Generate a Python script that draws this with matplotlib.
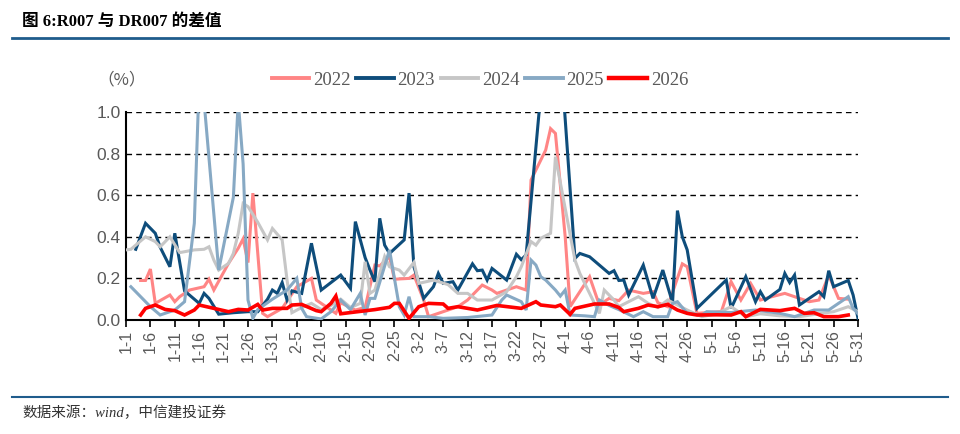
import numpy as np
import matplotlib.pyplot as plt
from matplotlib.lines import Line2D

# x = day offset from 1-1 (non-leap year, 1-1 .. 5-31)
days_2022 = [3, 4, 5, 6, 9, 10, 11, 13, 16, 17, 18, 21, 23, 24, 25, 26, 28, 29, 32, 35,
             38, 39, 43, 44, 47, 49, 51, 52, 54, 55, 58, 59, 61, 62, 64, 68, 70, 73, 75, 76,
             80, 82, 83, 86, 87, 88, 90, 91, 95, 97, 99, 101, 103, 106, 108, 109, 111, 114,
             115, 117, 122, 124, 126, 128, 130, 132, 135, 138, 140, 142, 144, 146, 148]
vals_2022 = [0.19, 0.19, 0.245, 0.08, 0.12, 0.088, 0.112, 0.144, 0.16, 0.196, 0.144, 0.272,
             0.345, 0.39, 0.276, 0.61, 0.032, 0.016, 0.056, 0.16, 0.2, 0.096, 0.032, 0.083,
             0.048, 0.06, 0.264, 0.26, 0.305, 0.196, 0.2, 0.216, 0.096, 0.016, 0.032, 0.064,
             0.096, 0.168, 0.144, 0.128, 0.16, 0.144, 0.673, 0.817, 0.92, 0.897, 0.4, 0.064,
             0.208, 0.072, 0.104, 0.093, 0.144, 0.128, 0.136, 0.083, 0.064, 0.27, 0.256, 0.032,
             0.04, 0.184, 0.096, 0.176, 0.096, 0.11, 0.128, 0.104, 0.088, 0.096, 0.216, 0.104, 0.1]

days_2023 = [2, 4, 6, 7, 9, 10, 12, 15, 16, 17, 19, 22, 25, 27, 29, 30, 31, 32, 33, 34, 36,
             38, 40, 44, 46, 47, 49, 50, 51, 52, 53, 54, 57, 58, 59, 61, 63, 64, 65, 67, 68,
             71, 72, 73, 74, 75, 78, 80, 81, 82, 86, 89, 92, 93, 95, 99, 100, 101, 102, 103,
             106, 108, 110, 112, 113, 114, 115, 117, 123, 124, 127, 129, 130, 131, 134, 135,
             136, 137, 138, 142, 143, 144, 145, 148, 149, 150]
vals_2023 = [0.34, 0.465, 0.417, 0.35, 0.256, 0.417, 0.14, 0.08, 0.128, 0.104, 0.028, 0.035,
             0.04, 0.04, 0.1, 0.144, 0.128, 0.18, 0.096, 0.14, 0.128, 0.369, 0.144, 0.216,
             0.152, 0.473, 0.3, 0.24, 0.184, 0.489, 0.36, 0.32, 0.385, 0.61, 0.256, 0.104,
             0.16, 0.224, 0.176, 0.184, 0.144, 0.27, 0.237, 0.24, 0.192, 0.248, 0.192, 0.316,
             0.29, 0.313, 1.35, 1.3, 0.296, 0.32, 0.304, 0.224, 0.237, 0.19, 0.192, 0.12,
             0.264, 0.104, 0.24, 0.083, 0.526, 0.4, 0.337, 0.056, 0.192, 0.056, 0.208, 0.088,
             0.136, 0.096, 0.147, 0.224, 0.18, 0.216, 0.072, 0.136, 0.112, 0.237, 0.16, 0.19,
             0.12, 0.008]

days_2024 = [0, 1, 4, 6, 7, 9, 11, 14, 16, 17, 18, 19, 21, 22, 23, 24, 25, 27, 29, 30, 32,
             33, 34, 36, 38, 40, 42, 44, 46, 48, 49, 50, 51, 53, 54, 56, 57, 59, 60, 63, 66,
             68, 70, 72, 75, 78, 80, 81, 83, 84, 85, 87, 88, 92, 93, 95, 97, 98, 100, 101,
             103, 105, 107, 109, 111, 115, 118, 121, 124, 127, 130, 134, 138, 142, 145, 148, 150]
vals_2024 = [0.337, 0.34, 0.4, 0.377, 0.352, 0.4, 0.324, 0.337, 0.34, 0.352, 0.288, 0.24,
             0.272, 0.32, 0.417, 0.56, 0.545, 0.47, 0.385, 0.44, 0.385, 0.192, 0.035, 0.06,
             0.08, 0.05, 0.07, 0.1, 0.06, 0.08, 0.28, 0.128, 0.144, 0.305, 0.256, 0.24, 0.216,
             0.277, 0.176, 0.192, 0.17, 0.128, 0.128, 0.096, 0.096, 0.136, 0.208, 0.256, 0.377,
             0.36, 0.393, 0.417, 0.785, 0.288, 0.224, 0.128, 0.032, 0.144, 0.096, 0.064, 0.088,
             0.112, 0.08, 0.06, 0.096, 0.048, 0.016, 0.03, 0.064, 0.016, 0.03, 0.02, 0.016,
             0.03, 0.04, 0.064, 0.04]

days_2025 = [1, 5, 7, 10, 12, 14, 15, 16, 19, 22, 23, 24, 25, 26, 27, 30, 33, 35, 36, 37, 40,
             42, 44, 46, 48, 49, 50, 51, 54, 56, 57, 58, 59, 62, 65, 70, 75, 77, 78, 81, 82,
             83, 84, 85, 86, 88, 89, 90, 91, 94, 96, 97, 99, 101, 104, 106, 108, 111, 112,
             113, 115, 118, 119, 124, 129, 134, 137, 141, 144, 148, 149, 150]
vals_2025 = [0.16, 0.064, 0.024, 0.048, 0.088, 0.465, 1.15, 1.05, 0.24, 0.59, 1.05, 0.75,
             0.096, 0.008, 0.05, 0.1, 0.144, 0.2, 0.056, 0.016, 0.005, 0.04, 0.096, 0.05,
             0.128, 0.024, 0.104, 0.104, 0.337, 0.064, 0.024, 0.112, 0.016, 0.016, 0.008,
             0.012, 0.024, 0.096, 0.12, 0.088, 0.048, 0.288, 0.264, 0.208, 0.192, 0.144, 0.115,
             0.144, 0.024, 0.02, 0.016, 0.096, 0.07, 0.05, 0.016, 0.04, 0.016, 0.016, 0.08,
             0.088, 0.032, 0.024, 0.04, 0.036, 0.048, 0.032, 0.016, 0.048, 0.048, 0.112,
             0.056, 0.03]

days_2026 = [3, 4, 6, 8, 10, 12, 14, 15, 18, 21, 23, 25, 27, 28, 30, 33, 34, 36, 39, 40, 42,
             43, 44, 51, 54, 55, 56, 58, 60, 62, 65, 66, 68, 72, 76, 81, 84, 85, 88, 89, 91,
             92, 96, 99, 101, 102, 105, 107, 109, 111, 113, 115, 117, 121, 124, 126, 127, 130,
             134, 137, 139, 141, 143, 146, 148]
vals_2026 = [0.024, 0.056, 0.072, 0.051, 0.045, 0.024, 0.048, 0.072, 0.056, 0.04, 0.051,
             0.048, 0.075, 0.048, 0.056, 0.056, 0.072, 0.075, 0.045, 0.04, 0.08, 0.115, 0.03,
             0.05, 0.061, 0.08, 0.08, 0.008, 0.064, 0.08, 0.077, 0.056, 0.064, 0.048, 0.07,
             0.056, 0.088, 0.072, 0.064, 0.072, 0.027, 0.056, 0.077, 0.077, 0.06, 0.04, 0.056,
             0.072, 0.064, 0.075, 0.048, 0.032, 0.024, 0.025, 0.024, 0.04, 0.016, 0.051, 0.045,
             0.056, 0.032, 0.035, 0.016, 0.016, 0.024]

tick_days = list(range(0, 151, 5))
month_len = [31, 28, 31, 30, 31]


def day_label(d):
    m = 0
    while d >= month_len[m]:
        d -= month_len[m]
        m += 1
    return f"{m + 1}-{d + 1}"


tick_labels = [day_label(d) for d in tick_days]

series = [
    ("2022", days_2022, vals_2022, "#FF8585", 2.2),
    ("2023", days_2023, vals_2023, "#0E4D7B", 2.2),
    ("2024", days_2024, vals_2024, "#C6C6C6", 2.2),
    ("2025", days_2025, vals_2025, "#87A9C4", 2.2),
    ("2026", days_2026, vals_2026, "#FF0000", 2.6),
]

fig = plt.figure(figsize=(9.6, 4.34), dpi=100)
ax = fig.add_axes([126 / 960, 1 - 320 / 434, (858 - 126) / 960, (320 - 112) / 434])

for y in [0.2, 0.4, 0.6, 0.8, 1.0]:
    ax.axhline(y, color="black", lw=1.0, ls=(0, (4, 3)), zorder=1)

for name, d, v, c, lw in series:
    ax.plot(d, v, color=c, lw=lw, label=name, zorder=3, solid_joinstyle="miter")

ax.set_xlim(0, 150)
ax.set_ylim(0, 1.0)
ax.set_yticks([0, 0.2, 0.4, 0.6, 0.8, 1.0])
ax.set_yticklabels([f"{t:.1f}" for t in [0, 0.2, 0.4, 0.6, 0.8, 1.0]],
                   fontfamily="Liberation Sans", fontsize=12.5, color="#595959")
ax.set_xticks(tick_days)
ax.set_xticklabels(tick_labels, rotation=90, fontfamily="Liberation Sans",
                   fontsize=11.5, color="#595959")
ax.tick_params(axis="y", length=0, pad=4)
ax.tick_params(axis="x", direction="out", length=5, width=1.2, color="black", pad=2)
for s in ["top", "right"]:
    ax.spines[s].set_visible(False)
ax.spines["left"].set_linewidth(1.5)
ax.spines["bottom"].set_linewidth(1.5)

handles = [Line2D([], [], color=c, lw=lw + 0.6) for _, _, _, c, lw in series]
fig.legend(handles, [s[0] for s in series], loc="center", bbox_to_anchor=(0.5, 1 - 80 / 434),
           ncol=5, frameon=False, handlelength=2.0, handletextpad=0.2, columnspacing=0.3,
           prop={"family": "Liberation Serif", "size": 13.5}, labelcolor="#595959")

fig.text(0.101, 1 - 80 / 434, "（%）", va="center", ha="left", fontsize=12,
         family=["Noto Sans CJK SC"], color="#595959")

# title and bands
fig.text(22 / 960, 1 - 22 / 434, "图 6:R007 与 DR007 的差值", va="center", ha="left",
         fontsize=12, fontweight="bold", family=["Liberation Serif", "Noto Sans CJK SC"],
         color="black")
fig.add_artist(Line2D([12 / 960, 948 / 960], [1 - 38 / 434, 1 - 38 / 434], color="#1F5C8C", lw=2))
fig.add_artist(Line2D([12 / 960, 948 / 960], [1 - 397 / 434, 1 - 397 / 434], color="#1F5C8C", lw=1.5))
fig.text(22 / 960, 1 - 413 / 434, "数据来源：wind，中信建投证券", va="center", ha="left",
         fontsize=10.5, style="italic", family=["Liberation Serif", "Noto Sans CJK SC"],
         color="#333333")

fig.savefig("out.png", dpi=100)
